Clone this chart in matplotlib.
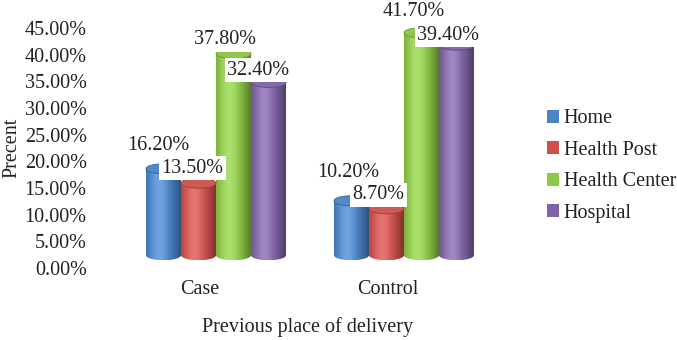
import numpy as np
import matplotlib
matplotlib.use("Agg")
import matplotlib.pyplot as plt
from matplotlib.patches import Polygon, Ellipse, Patch
from matplotlib.colors import to_rgb

plt.rcParams['font.family'] = ['Liberation Serif', 'DejaVu Serif']

# ---- data ----
groups = ["Case", "Control"]
series = ["Home", "Health Post", "Health Center", "Hospital"]
case_vals = [16.2, 13.5, 37.8, 32.4]
control_vals = [10.2, 8.7, 41.7, 39.4]
yticks = [0, 5, 10, 15, 20, 25, 30, 35, 40, 45]

values = [case_vals, control_vals]
colors = ["#4A84C8", "#CF504C", "#8DC847", "#8063A8"]

# label offsets (pixels) relative to the cylinder top
label_off = [[(-5, 23), (-6, 15), (-8, 14), (-10, 12)],
             [(-3, 28), (-8, 14), (-8, 21), (-8, 10)]]

FS = 14.5
W, H = 677, 340
fig = plt.figure(figsize=(W / 100, H / 100), dpi=100)
ax_l, ax_r, ax_b, ax_t = 95, 530, 268, 28
ax = fig.add_axes([ax_l / W, (H - ax_b) / H, (ax_r - ax_l) / W, (ax_b - ax_t) / H])

px_per_unit = 188.0
xmin = (ax_l - 200) / px_per_unit
xmax = (ax_r - 200) / px_per_unit
ax.set_xlim(xmin, xmax)
ax.set_ylim(0, 45)

base = 2.4          # 3D floor offset
ell_h = 1.9         # ellipse height (data units)
bw = 35 / px_per_unit
shift = 16 / px_per_unit


def shade(rgb, n=64):
    t = np.linspace(0, 1, n)
    k = np.cos(np.pi * (t - 0.38) / 1.25)
    k = np.clip(k, 0, 1)
    out = np.zeros((1, n, 3))
    for i in range(3):
        c = rgb[i] * (0.62 + 0.45 * k)
        c = c + (1 - rgb[i]) * 0.18 * k ** 6
        out[0, :, i] = np.clip(c, 0, 1)
    return out


theta = np.linspace(np.pi, 2 * np.pi, 40)
for gi, vals in enumerate(values):
    for si, v in enumerate(vals):
        xc = gi + shift + (si - 1.5) * bw
        x0, x1 = xc - bw / 2, xc + bw / 2
        top = base + v
        rgb = to_rgb(colors[si])
        bx = xc + (bw / 2) * np.cos(theta)
        by = base + (ell_h / 2) * np.sin(theta)
        verts = list(zip(bx, by)) + [(x1, top), (x0, top)]
        poly = Polygon(verts, closed=True, facecolor='none', edgecolor='none')
        ax.add_patch(poly)
        im = ax.imshow(shade(rgb), extent=[x0, x1, base - ell_h / 2, top],
                       aspect='auto', interpolation='bilinear', zorder=2)
        im.set_clip_path(poly)
        topc = tuple(min(1, c * 0.92 + 0.06) for c in rgb)
        edgec = tuple(c * 0.75 for c in rgb)
        ax.add_patch(Ellipse((xc, top), bw, ell_h, facecolor=topc,
                             edgecolor=edgec, lw=0.6, zorder=3))

for gi, vals in enumerate(values):
    for si, v in enumerate(vals):
        xc = gi + shift + (si - 1.5) * bw
        dx, dy = label_off[gi][si]
        ax.annotate(f"{v:.2f}%", xy=(xc, base + v), xytext=(dx, dy),
                    textcoords='offset pixels', ha='center', va='center',
                    fontsize=FS, color='#222222', zorder=5,
                    bbox=dict(boxstyle='square,pad=0.12', fc='white', ec='none'))

ax.set_xlim(xmin, xmax)
ax.set_ylim(0, 45)
ax.set_xticks([0, 1])
ax.set_xticklabels(groups)
ax.set_yticks(yticks)
ax.set_yticklabels([f"{t:.2f}%" for t in yticks])
ax.tick_params(axis='both', length=0, labelsize=FS, colors='#222222')
ax.tick_params(axis='x', pad=9)
ax.tick_params(axis='y', pad=6)
for s in ax.spines.values():
    s.set_visible(False)

ax.set_xlabel("Previous place of delivery", fontsize=FS, color='#222222')
ax.xaxis.set_label_coords((308 - ax_l) / (ax_r - ax_l), -(317 - ax_b) / (ax_b - ax_t))
ax.set_ylabel("Precent", fontsize=FS, color='#222222')
ax.yaxis.set_label_coords((21 - ax_l) / (ax_r - ax_l), 0.5)

handles = [Patch(facecolor=c, edgecolor='none') for c in colors]
fig.legend(handles, series, loc='center left',
           bbox_to_anchor=(547 / W, 1 - 166 / H), frameon=False,
           fontsize=FS, handlelength=0.6, handleheight=0.6,
           handletextpad=0.22, labelspacing=0.62, borderpad=0, borderaxespad=0,
           labelcolor='#222222')

fig.savefig("out.png", dpi=100)
